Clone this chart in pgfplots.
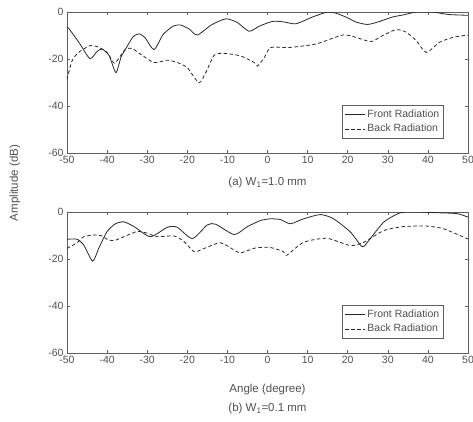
\documentclass[border=0pt]{standalone}
\usepackage{pgfplots}
\pgfplotsset{compat=1.18}
\usepackage{fontspec}
\setmainfont{Liberation Sans}
\definecolor{txt}{HTML}{505050}
\definecolor{ln}{HTML}{282828}
\definecolor{ax}{HTML}{606060}
\begin{document}
\fontsize{10}{12}\selectfont
\begin{tikzpicture}
\pgfplotsset{
  common/.style={
    scale only axis, width=401pt, height=141pt,
    xmin=-50, xmax=50, ymin=-60, ymax=0,
    xtick={-50,-40,...,50}, ytick={-60,-40,-20,0},
    tick align=inside, tick pos=both,
    major tick length=3pt,
    axis line style={ax, line width=0.6pt},
    every tick/.style={ax, line width=0.5pt},
    tick label style={font=\fontsize{10.5}{12}\selectfont, text=txt},
    /pgf/number format/assume math mode=true,
    legend style={at={(0.94,0.105)}, anchor=south east, draw=ax, line width=0.5pt,
      font=\fontsize{10.5}{12}\selectfont, text=txt, inner sep=2.5pt, row sep=1pt,
      legend cell align=left},
    legend image code/.code={\draw[#1, line width=0.6pt] (0cm,0cm) -- (0.7cm,0cm);},
    clip=true,
  },
}
\begin{axis}[common, name=a]
\addplot[ln, line width=0.8pt, smooth, tension=0.4] coordinates {
(-50,-6.5)(-49.6,-6.9)(-47,-13)(-44.3,-19.8)(-42.5,-16.8)(-41.25,-15.8)(-39.5,-18.5)(-37.8,-25.8)(-36.5,-19)(-35.4,-15.8)(-33.5,-10.5)(-32,-9.3)(-30.5,-11)(-28.3,-16)(-26,-9.5)(-23.5,-6)(-21.7,-5.5)(-19.5,-7.3)(-17.5,-9.8)(-14,-5.5)(-10.4,-2.9)(-7.5,-4.5)(-4.6,-8.2)(-2,-6)(1.25,-4)(4,-4.2)(7.1,-5)(11.25,-2.1)(15,0)(17.1,-0.5)(20,-2.5)(22.1,-4.3)(25,-5.3)(28,-4)(31.25,-2.1)(34,-1.2)(37.1,0)(41.25,0)(43,-0.5)(45.4,-1.1)(50,-1.4)
};
\addlegendentry{Front Radiation}
\addplot[ln, line width=0.8pt, dash pattern=on 3.5pt off 2.5pt, smooth, tension=0.4] coordinates {
(-50,-28.7)(-48.75,-20.8)(-47.1,-17.2)(-44.2,-14.3)(-42.1,-15)(-40,-17.2)(-38.2,-21.8)(-36.7,-18.7)(-35.4,-15.8)(-33.75,-15.5)(-31.7,-17.9)(-28.3,-21.5)(-25,-20.5)(-22.5,-21.5)(-20,-23.7)(-17.1,-30.1)(-15.4,-25.8)(-13.3,-18.4)(-10.8,-17.6)(-6.7,-18.7)(-3.3,-21.5)(-2.5,-23)(-0.8,-19.4)(0.8,-15.1)(5.4,-15.1)(12.1,-13.6)(18.75,-9.8)(22.1,-10.8)(25.8,-12.6)(28.75,-10)(32.1,-7.5)(34.6,-8.6)(37.1,-12.2)(39.6,-17.2)(42.9,-12.9)(46.25,-10.8)(50,-9.8)
};
\addlegendentry{Back Radiation}
\end{axis}
\node[text=txt, font=\fontsize{11.5}{13}\selectfont] at ([yshift=-30pt]a.south) {(a) W\textsubscript{1}=1.0 mm};
\begin{axis}[common, name=b, at={(a.south west)}, anchor=south west, yshift=-200pt]
\addplot[ln, line width=0.8pt, smooth, tension=0.4] coordinates {
(-50,-11.6)(-47.5,-11.6)(-45.8,-14.1)(-43.6,-20.9)(-42.1,-15.5)(-40,-8.3)(-37.9,-5)(-35.8,-4.2)(-33.3,-6.2)(-29.2,-10.5)(-25,-6.5)(-22.5,-6.5)(-18.75,-11.3)(-15,-5.5)(-12.9,-5.2)(-8.3,-9.6)(-5,-6.2)(-1.7,-3.6)(0.7,-2.9)(3.2,-3.2)(5.7,-5)(9,-2.9)(13.2,-1.1)(16.5,-2.9)(20.7,-8.6)(23.6,-14.8)(24.9,-12.9)(29,-4.3)(33.2,-0.3)(37.3,0)(42.3,-0.3)(47.3,-0.7)(50,-2.2)
};
\addlegendentry{Front Radiation}
\addplot[ln, line width=0.8pt, dash pattern=on 3.5pt off 2.5pt, smooth, tension=0.4] coordinates {
(-50,-15.5)(-47.5,-13.1)(-45.8,-10.5)(-43.3,-9.8)(-41.25,-10.2)(-40,-11.6)(-38.3,-12.2)(-35.8,-10.5)(-32.5,-8.3)(-30,-9)(-27.5,-10.5)(-23.3,-10.2)(-20.8,-12.6)(-18.3,-16.9)(-15.8,-15.5)(-11.7,-13.1)(-8.3,-16.2)(-6.7,-17.4)(-3,-15.3)(0.7,-15.1)(4,-16.9)(4.8,-18.4)(9,-12.9)(14.8,-11.2)(20.7,-14.3)(24,-12.9)(29,-7.9)(34,-6.2)(39.8,-6)(44,-7.2)(50,-11.5)
};
\addlegendentry{Back Radiation}
\end{axis}
\node[text=txt, font=\fontsize{11.5}{13}\selectfont] at ([yshift=-37pt]b.south) {Angle (degree)};
\node[text=txt, font=\fontsize{11.5}{13}\selectfont] at ([yshift=-56pt]b.south) {(b) W\textsubscript{1}=0.1 mm};
\node[text=txt, font=\fontsize{11.5}{13}\selectfont, rotate=90] at ([xshift=-52pt, yshift=-30pt]a.south west) {Amplitude (dB)};
\pgfresetboundingbox
\useasboundingbox ([xshift=-67pt, yshift=12pt]a.north west) rectangle ++(473pt,-421pt);
\end{tikzpicture}
\end{document}
